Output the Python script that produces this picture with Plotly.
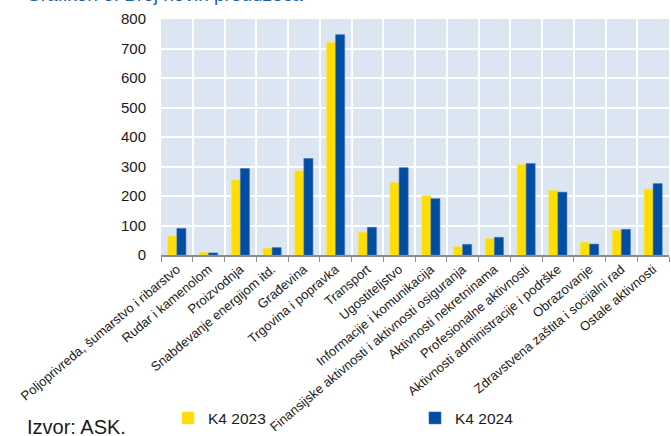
import plotly.graph_objects as go

categories = [
    "Poljoprivreda, šumarstvo i ribarstvo",
    "Rudar i kamenolom",
    "Proizvodnja",
    "Snabdevanje energijom itd.",
    "Građevina",
    "Trgovina i popravka",
    "Transport",
    "Ugostiteljstvo",
    "Informacije i komunikacija",
    "Finansijske aktivnosti i aktivnosti osiguranja",
    "Aktivnosti nekretninama",
    "Profesionalne aktivnosti",
    "Aktivnosti administracije i podrške",
    "Obrazovanje",
    "Zdravstvena zaštita i socijalni rad",
    "Ostale aktivnosti",
]
k4_2023 = [64, 9, 254, 23, 285, 720, 77, 245, 201, 28, 56, 307, 219, 43, 83, 223]
k4_2024 = [90, 7, 293, 25, 327, 747, 94, 296, 191, 36, 60, 310, 213, 37, 87, 242]
y_ticks = [0, 100, 200, 300, 400, 500, 600, 700, 800]

fig = go.Figure()
fig.add_trace(go.Bar(x=categories, y=k4_2023, name="K4 2023", legend="legend",
                     marker=dict(color="#FFDD00", line=dict(width=0.6, color="#FFE34D"))))
fig.add_trace(go.Bar(x=categories, y=k4_2024, name="K4 2024", legend="legend2",
                     marker=dict(color="#004DA1", line=dict(width=0.6, color="#3A74B8"))))

leg_common = dict(orientation="h", yanchor="middle", xanchor="left",
                  font=dict(size=15.5, color="#1a1a1a"), itemwidth=30,
                  bgcolor="rgba(0,0,0,0)")

fig.update_layout(
    width=671, height=436,
    margin=dict(l=161, r=2, t=19, b=180),
    paper_bgcolor="white",
    plot_bgcolor="#DCE6F2",
    font=dict(family="Liberation Sans, Arial", color="#1a1a1a"),
    bargap=0.43, bargroupgap=0.0,
    showlegend=True,
    legend=dict(x=0.0138, y=-0.685, **leg_common),
    legend2=dict(x=0.5, y=-0.685, **leg_common),
    xaxis=dict(tickangle=-40, tickfont=dict(size=13, color="#1a1a1a"),
               tickson="boundaries", ticks="outside", ticklen=5, tickcolor="#8c8c8c",
               showgrid=True, gridcolor="white", gridwidth=2, automargin=False,
               showline=True, linecolor="#8c8c8c", linewidth=1.5),
    yaxis=dict(range=[0, 800], tickvals=y_ticks, tickfont=dict(size=15, color="#1a1a1a"),
               showgrid=True, gridcolor="white", gridwidth=2, automargin=False,
               zeroline=False, showline=False, ticks="", ticklabelstandoff=14),
)

fig.add_annotation(text="Grafikon 6: Broj novih preduzeća", xref="paper", yref="paper",
                   x=-0.27, y=1.0, yshift=12, xanchor="left", yanchor="bottom",
                   showarrow=False, font=dict(size=19, color="#1F5FAA"))
fig.add_annotation(text="Izvor: ASK.", xref="paper", yref="paper",
                   x=-0.268, y=-0.73, xanchor="left", yanchor="middle",
                   showarrow=False, font=dict(size=20, color="#1a1a1a"))

fig.write_html("out.html")
